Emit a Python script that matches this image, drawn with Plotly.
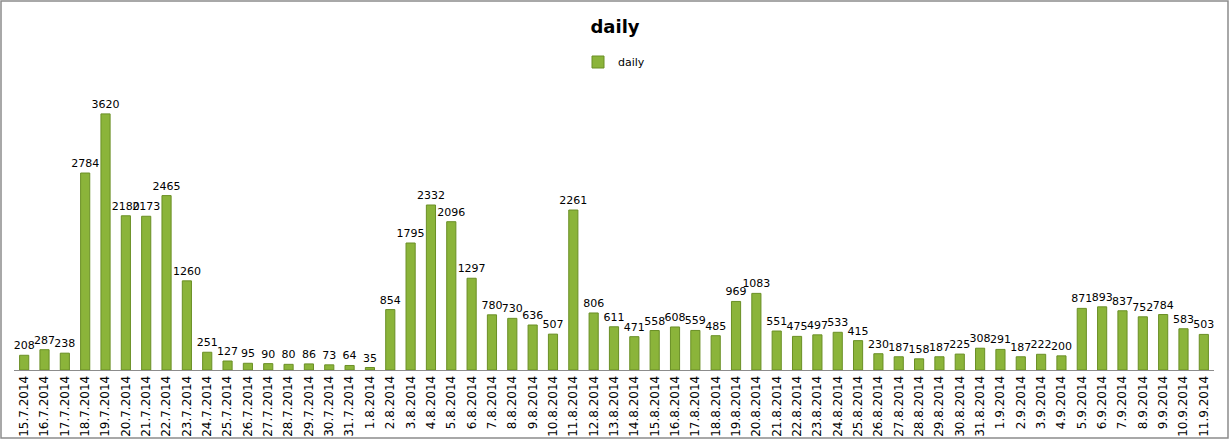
import plotly.graph_objects as go

dates = [
    "15.7.2014", "16.7.2014", "17.7.2014", "18.7.2014", "19.7.2014", "20.7.2014",
    "21.7.2014", "22.7.2014", "23.7.2014", "24.7.2014", "25.7.2014", "26.7.2014",
    "27.7.2014", "28.7.2014", "29.7.2014", "30.7.2014", "31.7.2014",
    "1.8.2014", "2.8.2014", "3.8.2014", "4.8.2014", "5.8.2014", "6.8.2014",
    "7.8.2014", "8.8.2014", "9.8.2014", "10.8.2014", "11.8.2014", "12.8.2014",
    "13.8.2014", "14.8.2014", "15.8.2014", "16.8.2014", "17.8.2014", "18.8.2014",
    "19.8.2014", "20.8.2014", "21.8.2014", "22.8.2014", "23.8.2014", "24.8.2014",
    "25.8.2014", "26.8.2014", "27.8.2014", "28.8.2014", "29.8.2014", "30.8.2014",
    "31.8.2014",
    "1.9.2014", "2.9.2014", "3.9.2014", "4.9.2014", "5.9.2014", "6.9.2014",
    "7.9.2014", "8.9.2014", "9.9.2014", "10.9.2014", "11.9.2014",
]

daily = [
    208, 287, 238, 2784, 3620, 2180, 2173, 2465, 1260, 251, 127, 95, 90, 80, 86, 73, 64,
    35, 854, 1795, 2332, 2096, 1297, 780, 730, 636, 507, 2261, 806, 611, 471, 558, 608,
    559, 485, 969, 1083, 551, 475, 497, 533, 415, 230, 187, 158, 187, 225, 308,
    291, 187, 222, 200, 871, 893, 837, 752, 784, 583, 503,
]

W, H = 1230, 441
ml, mr, mt, mb = 14, 16, 87, 71

fig = go.Figure()
fig.add_trace(go.Bar(
    x=dates,
    y=daily,
    name="daily",
    width=0.45,
    marker=dict(color="#8bb43a", line=dict(color="#6a8f25", width=1)),
    text=[str(v) for v in daily],
    textposition="outside",
    textangle=0,
    constraintext="none",
    textfont=dict(family="DejaVu Sans", size=11, color="#000000"),
    cliponaxis=False,
    showlegend=True,
))

pw = W - ml - mr
ph = H - mt - mb
# outer grey frame around the whole chart
fig.add_shape(
    type="rect", xref="paper", yref="paper",
    x0=-(ml - 1) / pw, x1=1 + (mr - 2) / pw,
    y0=-(mb - 3) / ph, y1=1 + (mt - 1) / ph,
    line=dict(color="#8c8c8c", width=1.5),
)

fig.update_layout(
    width=W, height=H,
    margin=dict(l=ml, r=mr, t=mt, b=mb, autoexpand=False),
    paper_bgcolor="white",
    plot_bgcolor="white",
    title=dict(text="<b>daily</b>", x=0.5, xanchor="center",
               yref="container", y=1 - 27 / H, yanchor="middle",
               font=dict(family="DejaVu Sans", size=18, color="#000000")),
    legend=dict(orientation="h", x=0.5, xanchor="center", y=1 + 25 / ph, yanchor="middle",
                font=dict(family="DejaVu Sans", size=11, color="#000000"),
                itemwidth=30),
    uniformtext=dict(minsize=11, mode="show"),
)
fig.update_xaxes(
    type="category",
    tickangle=-90,
    tickfont=dict(family="DejaVu Sans", size=12, color="#000000"),
    showline=True, linecolor="#8c8c8c", linewidth=1,
    ticks="", showgrid=False, automargin=False,
)
fig.update_yaxes(range=[0, 4000], visible=False, showgrid=False)

# drop the browser's default page margin so the chart sits at the window's corner
fig.write_html("out.html", config={"displayModeBar": False},
               post_script="document.body.style.margin='0';")
